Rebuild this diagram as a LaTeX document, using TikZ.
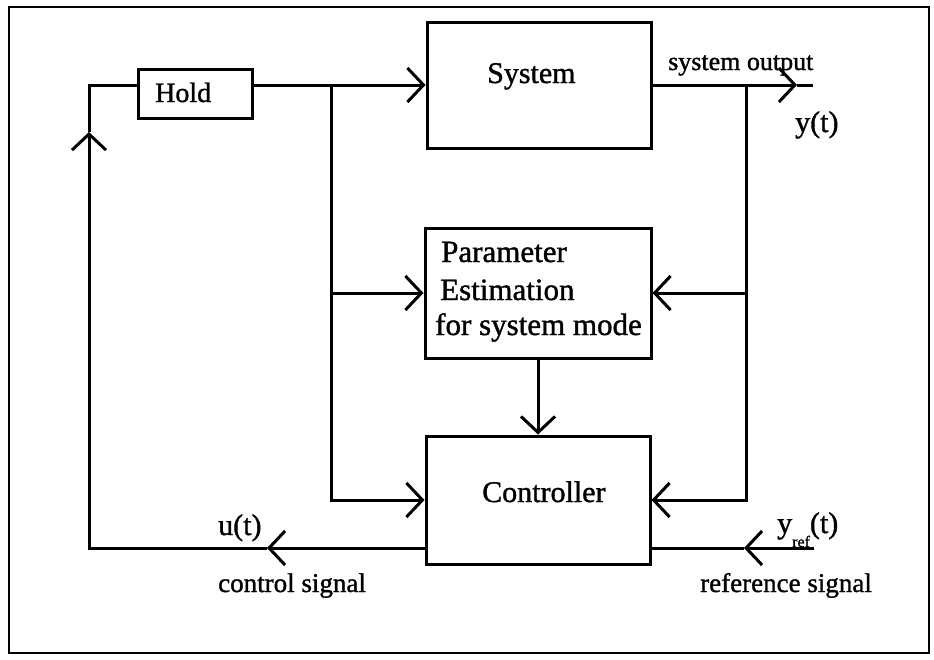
\documentclass[tikz,border=0pt]{standalone}
\usepackage{fontspec}
\setmainfont{Liberation Serif}[BoldFont=Liberation Serif, BoldFeatures={FakeBold=1.2}]
\usetikzlibrary{arrows.meta}
\newcommand{\fsz}[1]{\fontsize{#1}{#1}\selectfont\bfseries}
\begin{document}
\begin{tikzpicture}[x=1pt,y=-1pt,
  blk/.style={draw, line width=3pt, inner sep=0pt},
  wire/.style={line width=3pt},
  barb/.style={-{Straight Barb[length=16pt,width=34pt]}},
  lbl/.style={inner sep=0pt, anchor=base west},
]
\useasboundingbox (0,0) rectangle (934,659);
% outer frame
\draw[line width=2.2pt] (9,7) rectangle (929,653);

% blocks
\node[blk, minimum width=114pt, minimum height=49pt] (hold) at (195,93.5) {};
\node[blk, minimum width=224pt, minimum height=126pt] (sys) at (539,85) {};
\node[blk, minimum width=226pt, minimum height=130pt] (param) at (538,293) {};
\node[blk, minimum width=224pt, minimum height=128pt] (ctrl) at (538,500) {};

% block texts
\node[lbl, font=\fsz{28}] (tHold) at (155,102) {Hold};
\node[lbl, font=\fsz{30}] (tSys) at (487,83) {System};
\node[lbl, font=\fsz{31}] (tP1) at (441,262) {Parameter};
\node[lbl, font=\fsz{31}] (tP2) at (440,300) {Estimation};
\node[lbl, font=\fsz{31}] (tP3) at (435,335) {for system mode};
\node[lbl, font=\fsz{30}] (tCtrl) at (482,502) {Controller};

% routing points
\coordinate (uarr) at (267,548);
\coordinate (lcorner) at (89,548);
\coordinate (uparr) at (89,132);
\coordinate (tlcorner) at (89,85);
\coordinate (jl) at (331,85);
\coordinate (jr) at (746,85);
\coordinate (yarr) at (797,85);
\coordinate (yend) at (813,85);
\coordinate (rarr) at (744,548);
\coordinate (rend) at (814,548);

% control signal back to the hold element
\draw[wire,barb] (ctrl.west |- uarr) -- (uarr);
\draw[wire,barb] (uarr) -- (lcorner) -- (uparr);
\draw[wire] (uparr) -- (tlcorner) -- (hold.west |- tlcorner);

% hold output to system, estimator and controller
\draw[wire] (hold.east |- jl) -- (jl);
\draw[wire,barb] (jl) -- (sys.west |- jl);
\draw[wire,barb] (jl |- param.west) -- (param.west);
\draw[wire,barb] (jl) |- (ctrl.west);

% system output
\draw[wire,barb] (sys.east) -- (yarr);
\draw[wire] (yarr) -- (yend);
\draw[wire,barb] (jr |- param.east) -- (param.east);
\draw[wire,barb] (jr) |- (ctrl.east);

% estimator to controller
\draw[wire,barb] (param.south) -- (ctrl.north);

% reference input
\draw[wire,barb] (rend) -- (rarr);
\draw[wire] (rarr) -- (ctrl.east |- rarr);

% signal labels
\node[lbl, font=\fsz{26}] (tOut) at (668,70) {system output};
\node[lbl, font=\fsz{30}] (tY) at (795,132) {y(t)};
\node[lbl, font=\fsz{30}] (tU) at (218,535) {u(t)};
\node[lbl, font=\fsz{27}] (tCs) at (218,592) {control signal};
\node[lbl, font=\fsz{30}] (tYref) at (777,533) {y\raisebox{-14pt}{\fsz{16}ref}(t)};
\node[lbl, font=\fsz{27}] (tRs) at (700,592) {reference signal};
\end{tikzpicture}
\end{document}
